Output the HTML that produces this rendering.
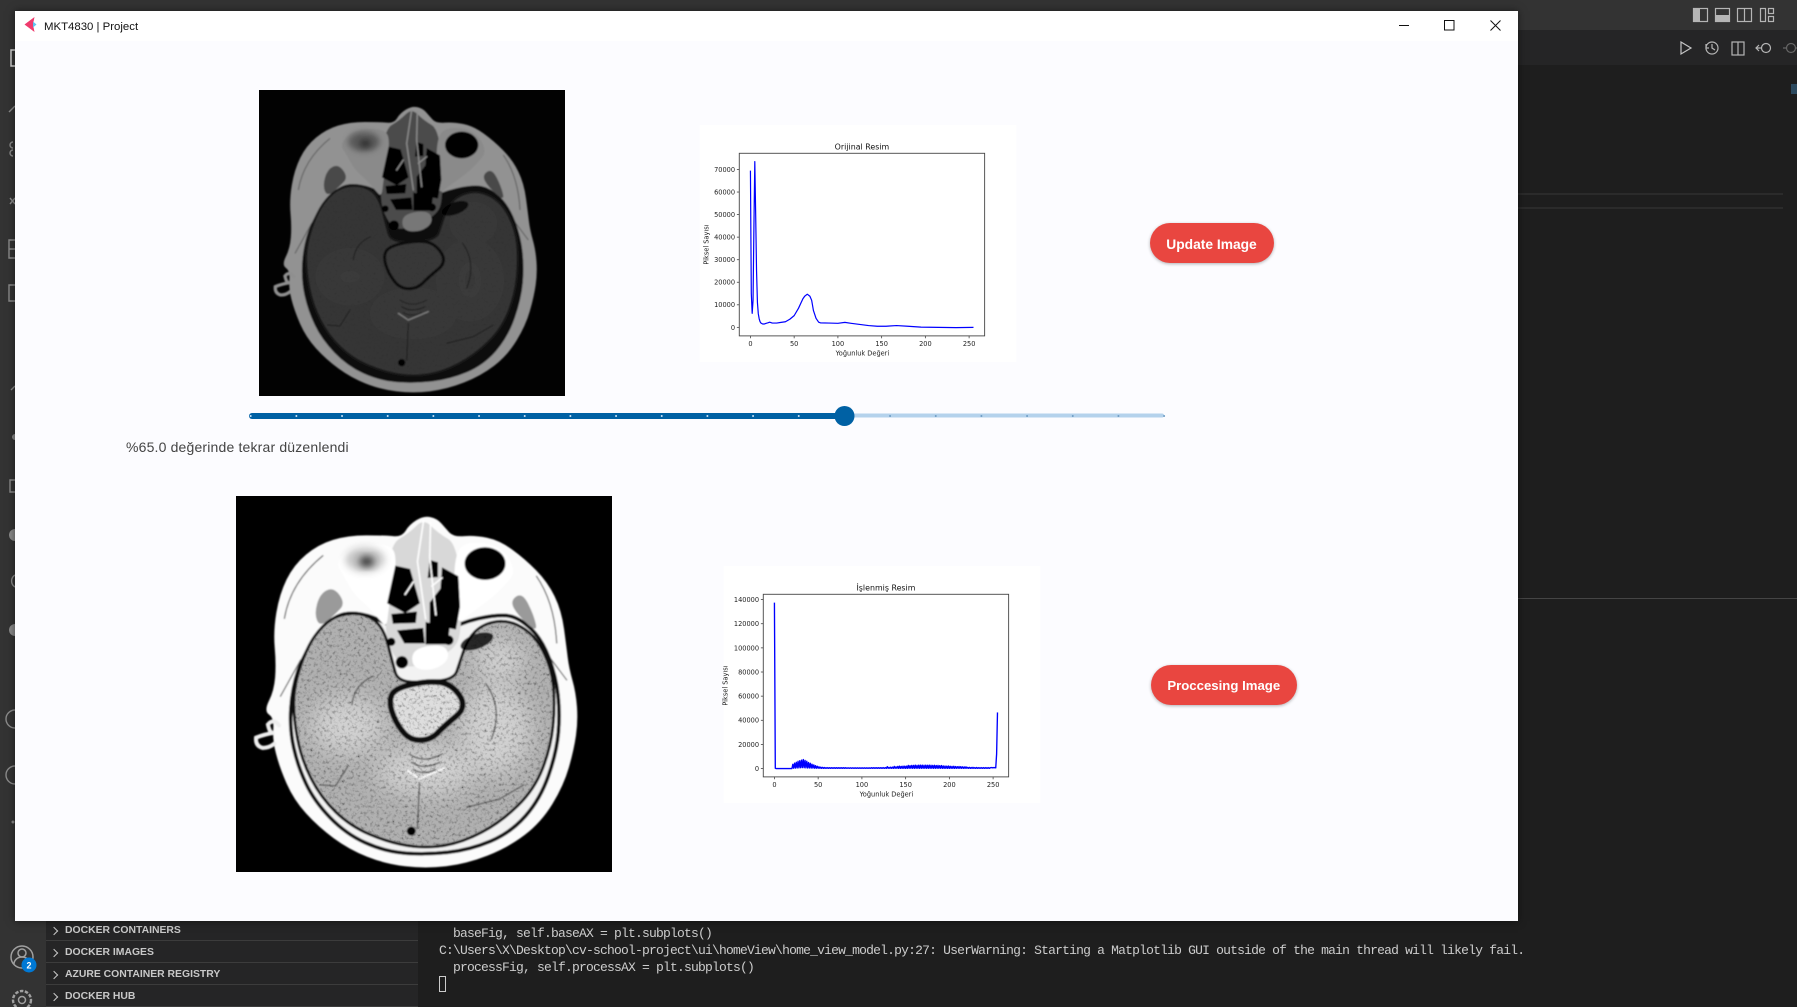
<!DOCTYPE html>
<html lang="tr">
<head>
<meta charset="utf-8">
<title>MKT4830 | Project</title>
<style>
html,body{margin:0;padding:0;width:1797px;height:1007px;overflow:hidden;background:#1e1e1e;font-family:"Liberation Sans",sans-serif}
#stage{position:absolute;left:0;top:0;width:1797px;height:1007px;overflow:hidden;background:#1e1e1e}
.abs{position:absolute}
#window{position:absolute;left:15px;top:11px;width:1503px;height:910px;background:#fcfcff;box-shadow:0 0 8px rgba(0,0,0,.5)}
#titlebar{position:absolute;left:0;top:0;width:1503px;height:30px;background:#fff}
.side-row{position:absolute;left:46px;width:372px;height:21px;border-bottom:1px solid #3c3c3c;color:#c8c8c8;font-weight:bold;font-size:10.4px;line-height:22px;box-sizing:border-box;padding-left:19px}
.side-row:before{content:"";position:absolute;left:5px;top:8px;width:5px;height:5px;border-top:1px solid #c8c8c8;border-right:1px solid #c8c8c8;transform:rotate(45deg)}
.term{position:absolute;font-family:"Liberation Mono",monospace;font-size:13px;letter-spacing:-.8px;color:#cccccc;white-space:pre;line-height:17px}
.btn{position:absolute;background:#e94640;color:#fff;font-weight:bold;font-size:14px;text-align:center;border-radius:21px;box-shadow:0 1px 3px rgba(0,0,0,.3)}
.brain{position:absolute;display:block}
.f-bg{fill:var(--bg)}
.f-skin{fill:var(--skin)}
.f-skull{fill:var(--skull);stroke:var(--skullline);stroke-width:9}
.f-brain{fill:var(--brain);stroke:var(--brainline);stroke-width:7}
.f-orbit{fill:var(--orbit)}
.f-fossa{fill:var(--fossa)}
.f-septa{fill:var(--septa)}
.f-black{fill:#030303}
.f-pit{fill:var(--pit)}
.f-mid{fill:var(--mid);stroke:#0b0b0b;stroke-width:var(--midw)}
.f-eyeL{fill:var(--eyel)}
.f-eyeC{fill:var(--eyec)}
.f-patch{fill:#fff;opacity:var(--patch)}
.s-ridge{fill:none;stroke:var(--ridge);stroke-width:4;stroke-linecap:round}
.s-ear{fill:none;stroke:var(--ear);stroke-width:10;stroke-linecap:round}
.s-sulcus{fill:none;stroke:var(--sulcus);stroke-width:3;stroke-linecap:round}
.s-bright{fill:none;stroke:var(--bright);stroke-width:4;stroke-linecap:round}
.s-skinline{fill:none;stroke:var(--skinline);stroke-width:3}
.noise{opacity:var(--noise);mix-blend-mode:multiply}
#chartOriginal,#chartProcessed{filter:blur(.35px)}
</style>
</head>
<body>
<div id="stage">

  <!-- VS Code behind -->
  <div class="abs" style="left:0;top:0;width:1797px;height:30px;background:#333333"></div>
  <div class="abs" style="left:0;top:30px;width:1797px;height:35px;background:#252526"></div>
  <div class="abs" style="left:0;top:0;width:46px;height:1007px;background:#333333"></div>
  <div class="abs" style="left:46px;top:900px;width:372px;height:107px;background:#252526"></div>
  <div class="abs" style="left:1518px;top:193px;width:265px;height:2px;background:#2b2b2b"></div>
  <div class="abs" style="left:1518px;top:207px;width:265px;height:2px;background:#2b2b2b"></div>
  <div class="abs" style="left:1518px;top:598px;width:279px;height:1px;background:#454545"></div>
  <div class="abs" style="left:1791px;top:84px;width:6px;height:10px;background:#2d4a5f"></div>

  <svg class="abs" style="left:0;top:0" width="15" height="921">
    <g fill="none" stroke="#8a8a8a" stroke-width="1.4">
      <path d="M15 50H11V66H15" stroke="#d8d8d8"/>
      <path d="M9 112L15 106"/><path d="M13 142a3 3 0 0 0 0 6"/><path d="M13 150a3 3 0 0 0 0 6"/>
      <path d="M10 198L15 204M15 198L10 204"/>
      <path d="M15 240H9V258H15M9 249H15"/><path d="M15 285H9V301H15"/>
      <path d="M11 390L15 386"/><path d="M15 480H10V492H15"/>
      <path d="M15 575a7 7 0 0 0 0 12"/><path d="M15 710a9 9 0 0 0 0 18"/><path d="M15 766a9 9 0 0 0 0 18"/>
    </g>
    <g fill="#8a8a8a"><circle cx="15" cy="437" r="3"/><circle cx="15" cy="535" r="6"/><circle cx="15" cy="630" r="6"/><circle cx="13" cy="822" r="1.5"/></g>
  </svg>

  <svg class="abs" style="left:1680px;top:0" width="117" height="65">
    <g fill="none" stroke="#b5b5b5" stroke-width="1.2">
      <rect x="13.5" y="8.5" width="14" height="13"/><rect x="35.5" y="8.5" width="14" height="13"/><rect x="57.5" y="8.5" width="14" height="13"/><path d="M64.5 8.5V21.5"/>
      <rect x="80.5" y="8.5" width="5" height="13"/><rect x="88.5" y="8.5" width="5" height="5"/><rect x="88.5" y="16.5" width="5" height="5"/>
      <path d="M1 42L11 48L1 54Z" stroke="#c5c5c5"/>
      <circle cx="32" cy="48" r="6"/><path d="M32 44V48L35 50"/><path d="M26 44V48H29"/>
      <rect x="52" y="42" width="12" height="13"/><path d="M58 42V55"/>
      <circle cx="86" cy="48" r="4.5"/><path d="M81 48H76M79 45L76 48L79 51"/>
      <circle cx="111" cy="48" r="4.5" stroke="#666"/><path d="M106 48H103M116 48H117" stroke="#666"/>
    </g>
    <rect x="14" y="9" width="6" height="12" fill="#b5b5b5"/>
    <rect x="36" y="15" width="13" height="6" fill="#b5b5b5"/>
  </svg>

  <div class="side-row" style="top:920px">DOCKER CONTAINERS</div>
  <div class="side-row" style="top:942px">DOCKER IMAGES</div>
  <div class="side-row" style="top:964px">AZURE CONTAINER REGISTRY</div>
  <div class="side-row" style="top:986px">DOCKER HUB</div>

  <svg class="abs" style="left:0;top:930px" width="46" height="77">
    <g fill="none" stroke="#a0a0a0" stroke-width="1.5">
      <circle cx="22" cy="27" r="11"/><circle cx="22" cy="23" r="4"/><path d="M14 34a8 7 0 0 1 16 0"/>
      <circle cx="22" cy="70" r="9" stroke-width="2.4" stroke-dasharray="3.5 1.5"/><circle cx="22" cy="70" r="3.5"/>
    </g>
    <circle cx="29" cy="35" r="7.5" fill="#0078d4"/>
    <text x="29" y="38.5" fill="#fff" font-size="9" font-weight="bold" text-anchor="middle" font-family="Liberation Sans, sans-serif">2</text>
  </svg>

  <div class="term" style="left:453px;top:924.5px">baseFig, self.baseAX = plt.subplots()</div>
  <div class="term" style="left:439px;top:941.5px">C:\Users\X\Desktop\cv-school-project\ui\homeView\home_view_model.py:27: UserWarning: Starting a Matplotlib GUI outside of the main thread will likely fail.</div>
  <div class="term" style="left:453px;top:958.5px">processFig, self.processAX = plt.subplots()</div>
  <div class="abs" style="left:439px;top:976px;width:5px;height:14px;border:1px solid #ccc"></div>

  <svg width="0" height="0" style="position:absolute">
    <defs>
      <filter id="soft" x="-5%" y="-5%" width="110%" height="110%"><feGaussianBlur stdDeviation="2.2"/></filter>
      <filter id="blurBig" x="-40%" y="-40%" width="180%" height="180%"><feGaussianBlur stdDeviation="28"/></filter>
      <filter id="blurEye" x="-40%" y="-40%" width="180%" height="180%"><feGaussianBlur stdDeviation="9"/></filter>
      <filter id="grain" x="0" y="0" width="100%" height="100%">
        <feTurbulence type="fractalNoise" baseFrequency="0.13" numOctaves="2" seed="7"/>
        <feColorMatrix type="matrix" values="2.4 0 0 0 -0.3  2.4 0 0 0 -0.3  2.4 0 0 0 -0.3  0 0 0 0 1"/>
      </filter>
      <clipPath id="brainClip"><path id="brainClipPath"/></clipPath>
      <g id="scan">
        <rect class="f-bg" x="57" y="30" width="918" height="918"/>
        <g filter="url(#soft)">
          <path id="head" class="f-skin"/>
          <path class="s-skinline" d="M175 330Q190 240 270 175M790 225Q835 290 840 390M215 430L165 520M820 420L865 480"/>
          <path id="skull" class="f-skull"/>
          <path id="fossaL" class="f-fossa"/>
          <path id="fossaR" class="f-fossa"/>
          <path id="septa" class="f-septa"/>
          <path id="orbitL" class="f-orbit"/>
          <path id="orbitR" class="f-orbit"/>
          <ellipse class="f-eyeL" cx="372" cy="185" rx="48" ry="30" filter="url(#blurEye)"/>
          <ellipse class="f-eyeC" cx="376" cy="190" rx="18" ry="13" filter="url(#blurEye)"/>
          <ellipse class="f-black" cx="665" cy="195" rx="50" ry="40"/>
          <path id="brainShape" class="f-brain"/>
          <ellipse class="f-patch" cx="330" cy="590" rx="90" ry="70" filter="url(#blurBig)"/>
          <ellipse class="f-patch" cx="690" cy="600" rx="85" ry="110" filter="url(#blurBig)"/>
          <ellipse class="f-patch" cx="520" cy="700" rx="120" ry="60" filter="url(#blurBig)"/>
          <ellipse class="f-patch" cx="700" cy="430" rx="60" ry="50" filter="url(#blurBig)"/>
          <path class="f-black" d="M446 200L482 208L506 292L470 316L426 292Z"/>
          <path class="f-black" d="M436 318L499 312L496 340L440 342Z"/>
          <path class="f-black" d="M530 186L550 192L550 228L525 230Z"/>
          <path class="f-black" d="M560 204L600 226L604 300L594 356L530 344L530 290L556 256Z"/>
          <path class="f-black" d="M450 358L514 352L518 390L468 390Z"/>
          <path class="f-black" d="M520 338L579 348L574 392L520 392Z"/>
          <circle class="f-black" cx="576" cy="382" r="12"/>
          <circle class="f-black" cx="436" cy="386" r="10"/>
          <circle class="f-black" cx="462" cy="436" r="15"/>
          <path class="s-ridge" d="M515 90L500 190L520 330M532 95L530 180L545 320M490 240L470 270M560 230L535 250"/>
          <path id="pit" class="f-pit"/>
          <ellipse class="f-black" cx="645" cy="385" rx="42" ry="18" transform="rotate(-20 645 385)" opacity=".8"/>
          <path id="midbrain" class="f-mid"/>
          <path class="s-sulcus" d="M340 540Q345 490 392 470M680 625Q710 550 668 490M262 735L300 738L330 690M760 735L700 770L620 790"/>
          <path class="s-sulcus" d="M480 660Q515 685 560 660M485 680Q515 700 555 680M490 698Q515 712 545 698"/>
          <path class="s-sulcus" d="M505 730L500 840"/>
          <path class="s-bright" d="M475 700L505 720L565 695"/>
          <circle class="f-black" cx="485" cy="848" r="11"/>
          <path class="s-ear" d="M162 590Q148 572 135 588Q140 612 150 608Q125 612 106 620Q104 640 122 645Q138 645 150 635"/>
        </g>
        <g clip-path="url(#brainClip)" class="noise"><rect x="200" y="320" width="640" height="570" filter="url(#grain)"/></g>
      </g>
    </defs>
  </svg>

  <div id="window">
    <div id="titlebar">
      <svg class="abs" style="left:9px;top:5px" width="14" height="17">
        <path d="M10.5 1L0.5 8.5L10.5 16L9 8.5Z" fill="#ef3b6d"/>
        <path d="M9 5.5L12.5 8.5L9 11.5Z" fill="#5ec5f0"/>
      </svg>
      <div class="abs" style="left:29px;top:8.5px;font-size:11.4px;line-height:15px;color:#111;white-space:nowrap">MKT4830 | Project</div>
      <svg class="abs" style="left:1384px;top:4px" width="10" height="20"><path d="M0 10.5H10" stroke="#111" stroke-width="1"/></svg>
      <svg class="abs" style="left:1429px;top:4px" width="11" height="20"><rect x=".5" y="5.5" width="9.5" height="9.5" fill="none" stroke="#111"/></svg>
      <svg class="abs" style="left:1475px;top:4px" width="11" height="20"><path d="M.5 5.5L10.5 15.5M10.5 5.5L.5 15.5" stroke="#111" stroke-width="1"/></svg>
    </div>
  </div>

  <svg class="brain" style="left:259px;top:90px;--bg:#020202;--skin:#929292;--skull:#0d0d0d;--skullline:#0d0d0d;--brain:#363636;--brainline:#141414;--orbit:#8a8a8a;--fossa:#4a4a4a;--septa:#4c4c4c;--pit:#777;--mid:#373737;--midw:9;--eyel:#5a5a5a;--eyec:#333;--patch:.015;--ridge:#8e8e8e;--ear:#8f8f8f;--sulcus:#1c1c1c;--bright:#808080;--skinline:#5a5a5a;--noise:.12" width="306" height="306" viewBox="57 30 918 918"><use href="#scan"/></svg>

  <svg class="brain" style="left:236px;top:496px;--bg:#000;--skin:#fbfbfb;--skull:#f2f2f2;--skullline:#0a0a0a;--brain:#b0b0b0;--brainline:#0a0a0a;--orbit:#fff;--fossa:#9a9a9a;--septa:#d8d8d8;--pit:#fff;--mid:#dedede;--midw:14;--eyel:#c4c4c4;--eyec:#333;--patch:.42;--ridge:#fff;--ear:#eee;--sulcus:#4a4a4a;--bright:#fff;--skinline:#666;--noise:.5" width="376" height="376" viewBox="57 30 918 918"><use href="#scan"/></svg>

  <svg id="chartOriginal" class="abs" style="left:0;top:0;overflow:visible" width="1797" height="1007"></svg>

  <svg id="slider" class="abs" style="left:240px;top:400px" width="940" height="32">
    <rect id="sliderInactive" x="600" y="13.5" width="324" height="4" rx="2" fill="#b4d2ec"/>
    <rect id="sliderActive" x="9" y="13" width="595" height="6" rx="3" fill="#0061a4"/>
    <g id="sliderTicks"></g>
    <circle id="sliderThumb" cx="604.5" cy="16" r="10" fill="#0061a4"/>
  </svg>

  <div class="abs" style="left:126px;top:438px;font-size:14px;line-height:18px;color:#444;white-space:nowrap;letter-spacing:.17px">%65.0 değerinde tekrar düzenlendi</div>

  <div class="btn" style="left:1149.5px;top:223px;width:124px;height:40px;line-height:43px;font-size:13.8px">Update Image</div>
  <div class="btn" style="left:1150.5px;top:664.5px;width:146.5px;height:40px;line-height:41px;font-size:13.2px">Proccesing Image</div>

  <svg id="chartProcessed" class="abs" style="left:0;top:0;overflow:visible" width="1797" height="1007"></svg>
</div>

<script>
/* ---------- chart data ---------- */
const origX = [0,1,2,3,4,5,6,7,8,9,10,11,12,14,16,18,20,22,25,30,35,40,45,50,55,58,60,62,65,68,70,72,75,78,80,90,100,108,115,125,135,145,155,167,180,195,215,235,255];
const origY = [69500,15000,6200,12000,45000,73500,50000,25000,11000,6000,3800,2500,1900,1500,1500,1800,2000,2300,1900,1900,2200,2500,3600,5200,8500,11000,12700,13800,14700,13800,12000,7500,4000,2300,2000,1900,1800,2200,1800,1300,800,500,500,800,500,100,0,-100,0];
const origXTicks = [0,50,100,150,200,250];
const origYTicks = [0,10000,20000,30000,40000,50000,60000,70000];

const procY = [137500,300,0,0,0,0,0,0,0,0,0,0,0,0,0,0,0,0,0,0,0,
  3500,300,4500,400,5200,500,6000,600,6500,700,7000,800,7500,700,6800,600,6000,500,5000,500,4400,400,3600,400,3000,300,2400,300,1900,300,
  1500,200,1200,200,1000,200,900,200,800,200,800,200,700,200,700,200,700,200,700,200,
  700,200,700,200,700,200,700,200,700,200,700,200,650,200,650,200,650,200,650,200,
  600,200,600,200,600,200,600,200,600,200,600,200,600,200,600,200,600,200,600,200,
  700,200,700,200,700,200,700,200,700,200,700,200,800,200,800,200,800,200,1600,200,
  1000,200,1200,200,1200,200,1800,200,1500,200,1800,200,2000,200,1800,200,2000,200,2000,200,
  2000,200,2600,200,2400,200,2600,200,2600,200,2800,200,2600,200,2800,200,2800,200,2800,200,
  2700,200,2800,200,2700,200,2800,200,2700,200,2600,200,2700,200,2500,200,2600,200,2400,200,
  2500,200,2200,200,2100,200,2000,200,2100,200,1900,200,1800,200,1900,200,1700,200,1600,200,
  1700,200,1600,200,1500,200,1400,200,1500,200,1000,200,1000,200,900,200,1000,200,800,200,
  900,200,800,200,800,200,800,200,800,200,800,200,800,200,800,200,800,
  900,600,900,600,900,600,12000,46500];
const procXTicks = [0,50,100,150,200,250];
const procYTicks = [0,20000,40000,60000,80000,100000,120000,140000];

/* ---------- axis frames (layout only) ---------- */
const SVGNS = 'http://www.w3.org/2000/svg';
const FIG_W = 316.6, FIG_H = 237.4;

function node(parent, tag, attrs, txt) {
  const el = document.createElementNS(SVGNS, tag);
  for (const k in attrs) el.setAttribute(k, attrs[k]);
  if (txt !== undefined) el.textContent = txt;
  parent.appendChild(el);
  return el;
}

function drawChart(svg, fig, xs, ys, xTicks, yTicks, title, figName, strokeW, yTitleGap) {
  const left = fig.x + 0.125 * FIG_W, right = fig.x + 0.9 * FIG_W;
  const top = fig.y + 0.12 * FIG_H, bottom = fig.y + 0.89 * FIG_H - 0.2;
  const xLo = Math.min.apply(null, xs), xHi = Math.max.apply(null, xs);
  const yLo = Math.min.apply(null, ys), yHi = Math.max.apply(null, ys);
  const xPad = (xHi - xLo) * 0.05, yPad = (yHi - yLo) * 0.05;
  const sx = v => left + (v - (xLo - xPad)) / (xHi - xLo + 2 * xPad) * (right - left);
  const sy = v => bottom - (v - (yLo - yPad)) / (yHi - yLo + 2 * yPad) * (bottom - top);
  const font = '"DejaVu Sans",sans-serif';

  const bg = node(svg, 'rect', {x: fig.x, y: fig.y, width: FIG_W, height: FIG_H, fill: '#ffffff'});
  
  

  const line = node(svg, 'polyline', {
    points: xs.map((x, i) => sx(x).toFixed(2) + ',' + sy(ys[i]).toFixed(2)).join(' '),
    fill: 'none', stroke: '#0000ff', 'stroke-width': strokeW, 'stroke-linejoin': 'round'
  });
  
  

  const frame = node(svg, 'rect', {x: left, y: top, width: right - left, height: bottom - top, fill: 'none', stroke: '#444', 'stroke-width': 0.9});
  
  

  xTicks.forEach(v => {
    const px = sx(v);
    const tick = node(svg, 'line', {x1: px, x2: px, y1: bottom, y2: bottom + 2.4, stroke: '#444', 'stroke-width': 0.8});
    
    
    const lab = node(svg, 'text', {x: px, y: bottom + 10, 'font-size': 6.6, 'text-anchor': 'middle', fill: '#222', 'font-family': font}, String(v));
    
    
  });
  yTicks.forEach(v => {
    const py = sy(v);
    const tick = node(svg, 'line', {x1: left - 2.4, x2: left, y1: py, y2: py, stroke: '#444', 'stroke-width': 0.8});
    
    
    const lab = node(svg, 'text', {x: left - 4.2, y: py + 2.4, 'font-size': 6.6, 'text-anchor': 'end', fill: '#222', 'font-family': font}, String(v));
    
    
  });
  const t = node(svg, 'text', {x: (left + right) / 2, y: top - 4, 'font-size': 7.9, 'text-anchor': 'middle', fill: '#111', 'font-family': font}, title);
  
  
  const xl = node(svg, 'text', {x: (left + right) / 2 + 0.5, y: bottom + 19.5, 'font-size': 6.6, 'text-anchor': 'middle', fill: '#222', 'font-family': font}, 'Yoğunluk Değeri');
  
  
  const yx = left - yTitleGap, yy = (top + bottom) / 2;
  const yl = node(svg, 'text', {x: yx, y: yy, 'font-size': 6.6, 'text-anchor': 'middle', fill: '#222', 'font-family': font, transform: 'rotate(-90 ' + yx + ' ' + yy + ')'}, 'Piksel Sayısı');
  
  
}

drawChart(document.getElementById('chartOriginal'), {x: 699.7, y: 124.8}, origX, origY, origXTicks, origYTicks, 'Orijinal Resim', 'original-histogram', 1.2, 31);
drawChart(document.getElementById('chartProcessed'), {x: 723.7, y: 565.8}, procY.map((_, i) => i), procY, procXTicks, procYTicks, 'İşlenmiş Resim', 'processed-histogram', 1.35, 36);

/* ---------- slider ticks ---------- */
const sliderDivisions = [0,1,2,3,4,5,6,7,8,9,10,11,12,13,14,15,16,17,18,19,20];
const sliderValue = 13;
const sliderGroup = document.getElementById('sliderTicks');
sliderDivisions.forEach(d => {
  const c = node(sliderGroup, 'circle', {cx: 10.7 + d * 45.67, cy: 16, r: 1, fill: d <= sliderValue ? '#cfe4f7' : '#6e9cc4'});
  
  
});

/* ---------- MRI shapes ---------- */
function smooth(p) {
  let d = '';
  for (let i = 0; i < p.length; i++) {
    const a = p[i], b = p[(i + 1) % p.length];
    const mx = (a[0] + b[0]) / 2, my = (a[1] + b[1]) / 2;
    d += (i === 0 ? 'M' + ((p[p.length - 1][0] + a[0]) / 2) + ' ' + ((p[p.length - 1][1] + a[1]) / 2) : '') + 'Q' + a[0] + ' ' + a[1] + ' ' + mx + ' ' + my;
  }
  return d + 'Z';
}
const shapes = {
  head: [[515,78],[548,85],[568,108],[588,130],[640,126],[700,138],[762,183],[818,240],[852,310],[864,400],[870,450],[887,510],[892,580],[882,650],[857,737],[802,827],[722,888],[620,928],[520,940],[420,928],[333,893],[258,838],[198,772],[163,692],[146,625],[150,572],[125,555],[150,505],[155,440],[148,360],[163,270],[198,198],[258,148],[330,126],[420,126],[462,130],[480,100]],
  skull: [[290,325],[224,412],[194,500],[188,600],[208,690],[248,775],[325,855],[420,898],[520,906],[628,894],[728,852],[800,770],[840,655],[848,560],[838,470],[804,380],[750,328],[700,318],[600,340],[500,400],[430,340],[350,312]],
  brainShape: [[310,318],[372,316],[417,350],[440,440],[452,482],[520,486],[590,476],[602,440],[622,380],[660,342],[722,332],[786,368],[828,450],[836,540],[826,642],[786,746],[704,826],[610,876],[520,891],[430,876],[336,836],[264,766],[217,674],[197,570],[199,490],[231,398],[268,346]],
  orbitL: [[300,192],[340,150],[430,145],[452,180],[430,300],[425,352],[405,330],[380,300],[345,270],[318,222]],
  orbitR: [[742,212],[702,150],[620,140],[590,175],[590,290],[597,342],[625,320],[680,280],[712,250]],
  fossaL: [[262,268],[296,252],[324,292],[300,318],[262,350],[248,318]],
  fossaR: [[726,286],[756,265],[784,320],[794,365],[744,320]],
  septa: [[430,150],[480,120],[515,85],[550,120],[600,150],[610,350],[590,410],[470,460],[430,400],[420,340]],
  pit: [[485,412],[520,395],[570,395],[578,430],[540,456],[490,452]],
  midbrain: [[445,500],[520,482],[582,487],[622,545],[567,590],[532,626],[480,626],[445,580],[430,530]]
};
for (const id in shapes) document.getElementById(id).setAttribute('d', smooth(shapes[id]));
document.getElementById('brainClipPath').setAttribute('d', smooth(shapes.brainShape));
</script>
</body>
</html>
